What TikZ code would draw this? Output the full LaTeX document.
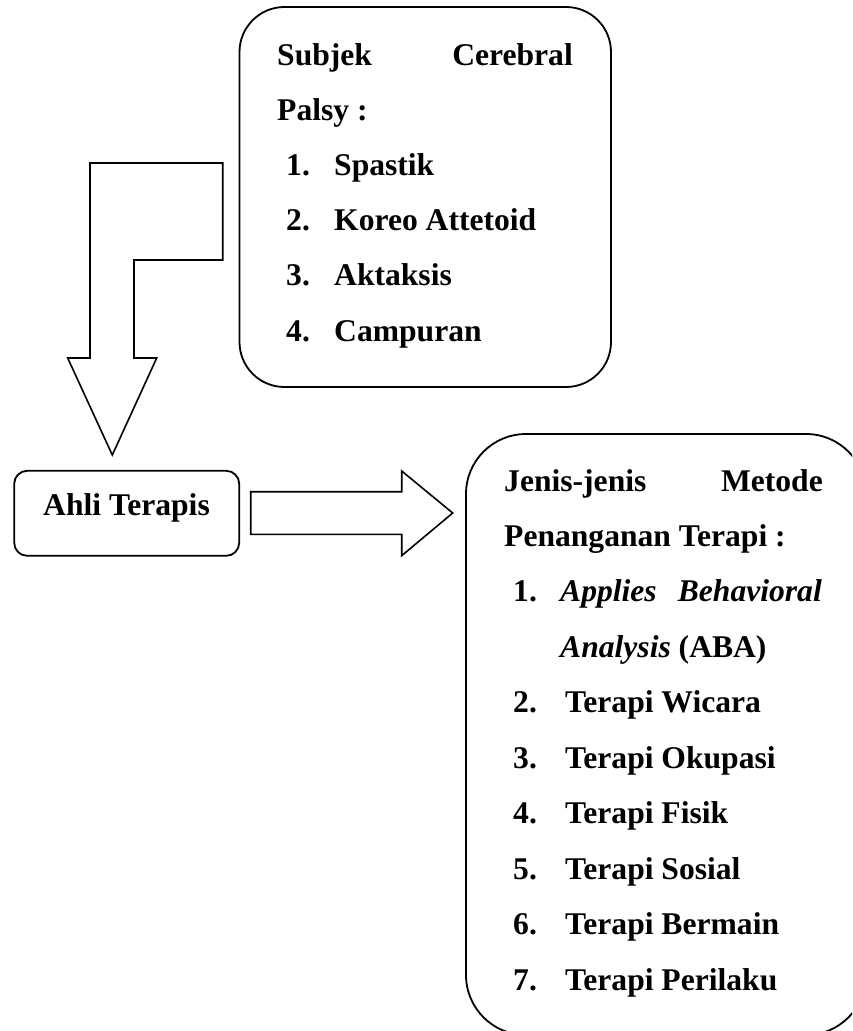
\documentclass[tikz,border=0pt]{standalone}
\usepackage{fontspec}
\setmainfont{Liberation Serif}
\begin{document}
\begin{tikzpicture}[x=1pt,y=-1pt,
  box/.style={draw, line width=1.8pt, inner sep=0pt},
  blockarrow/.style={draw, line width=1.6pt, line join=miter, fill=white},
  txt/.style={inner sep=0pt, font=\fontsize{31.6}{40}\selectfont\bfseries},
  lw/.style={txt, anchor=base west},
  le/.style={txt, anchor=base east}]
\useasboundingbox (0,0) rectangle (852,1031);
\clip (0,0) rectangle (852,1031);
% boxes
\node[box, rounded corners=45pt, minimum width=371.5pt, minimum height=380pt] (subj) at (425.25,197) {};
\node[box, rounded corners=13pt, minimum width=225pt, minimum height=85pt] (ahli) at (126.7,513.3) {};
\node[box, rounded corners=60pt, minimum width=400pt, minimum height=601pt] (jenis) at (666,734.5) {};
% bent arrow from subject box down to Ahli Terapis
\draw[blockarrow] (90,163) -- (222.7,163) -- (222.7,260) -- (134,260) -- (134,358)
  -- (156.7,358) -- (112.3,455) -- (67.7,358) -- (90,358) -- cycle;
% right arrow from Ahli Terapis to Jenis box
\draw[blockarrow] (250.7,491.7) -- (401.7,491.7) -- (401.7,471) -- (452.7,513)
  -- (401.7,555.7) -- (401.7,534.3) -- (250.7,534.3) -- cycle;
% top box text
\node[lw] (s1a) at (277,65) {Subjek};
\node[le] (s1b) at (573,65) {Cerebral};
\node[lw] (s2) at (277,120) {Palsy :};
\node[lw] (sn1) at (286,175) {1.};
\node[lw] (si1) at (334,175) {Spastik};
\node[lw] (sn2) at (286,230) {2.};
\node[lw] (si2) at (334,230) {Koreo Attetoid};
\node[lw] (sn3) at (286,285.5) {3.};
\node[lw] (si3) at (334,285.5) {Aktaksis};
\node[lw] (sn4) at (286,341) {4.};
\node[lw] (si4) at (334,341) {Campuran};
% Ahli text
\node[txt, anchor=base] (ahlitxt) at (126.5,515) {Ahli Terapis};
% bottom box text
\node[lw] (j1a) at (504,491.7) {Jenis-jenis};
\node[le] (j1b) at (823,491.7) {Metode};
\node[lw] (j2) at (504,546.7) {Penanganan Terapi :};
\node[lw] (jn1) at (513,601.7) {1.};
\node[lw] (ji1a) at (560,601.7) {\textit{Applies}};
\node[le] (ji1b) at (822,601.7) {\textit{Behavioral}};
\node[lw] (ji1c) at (560,657) {\textit{Analysis} (ABA)};
\node[lw] (jn2) at (513,712.5) {2.};
\node[lw] (ji2) at (565,712.5) {Terapi Wicara};
\node[lw] (jn3) at (513,768) {3.};
\node[lw] (ji3) at (565,768) {Terapi Okupasi};
\node[lw] (jn4) at (513,823.5) {4.};
\node[lw] (ji4) at (565,823.5) {Terapi Fisik};
\node[lw] (jn5) at (513,879) {5.};
\node[lw] (ji5) at (565,879) {Terapi Sosial};
\node[lw] (jn6) at (513,934.5) {6.};
\node[lw] (ji6) at (565,934.5) {Terapi Bermain};
\node[lw] (jn7) at (513,990) {7.};
\node[lw] (ji7) at (565,990) {Terapi Perilaku};
\end{tikzpicture}
\end{document}
